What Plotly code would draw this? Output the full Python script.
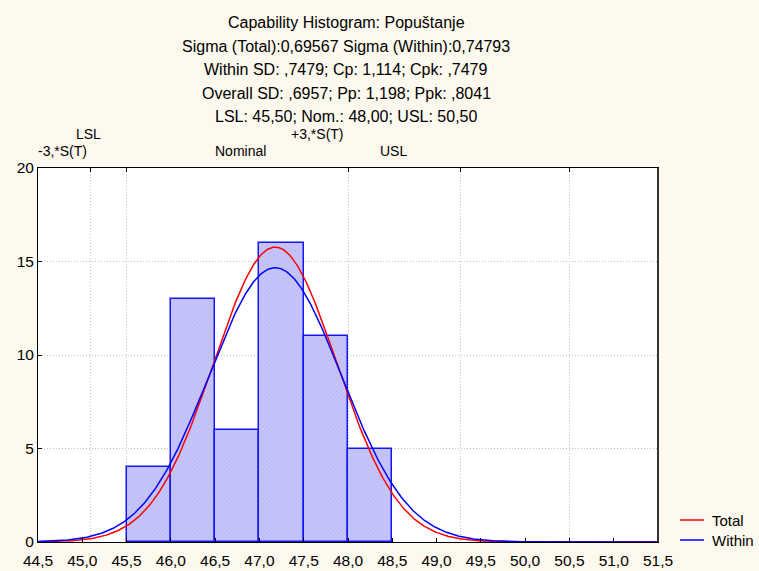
import numpy as np
import plotly.graph_objects as go

# ---- data ----
bin_left = [45.5, 46.0, 46.5, 47.0, 47.5, 48.0]
bin_width = 0.5
counts = [4, 13, 6, 16, 11, 5]
mean_val = 47.178
sigma_total = 0.69567
sigma_within = 0.74793
lsl, nominal, usl = 45.5, 48.0, 50.5

title_lines = [
    "Capability Histogram: Popuštanje",
    "Sigma (Total):0,69567 Sigma (Within):0,74793",
    "Within SD: ,7479; Cp: 1,114; Cpk: ,7479",
    "Overall SD: ,6957; Pp: 1,198; Ppk: ,8041",
    "LSL: 45,50; Nom.: 48,00; USL: 50,50",
]
top_tick_vals = [mean_val - 3 * sigma_total, lsl, nominal, mean_val + 3 * sigma_total, usl]
top_labels = ["-3,*S(T)", "LSL", "Nominal", "+3,*S(T)", "USL"]
# label positions as drawn (pixel x centre, row)
top_label_px = [62, 88, 241, 317, 393]
top_label_row = [1, 0, 1, 0, 1]

x_ticks = [44.5 + 0.5 * i for i in range(15)]
x_ticktext = [f"{v:.1f}".replace(".", ",") for v in x_ticks]

# ---- layout geometry ----
W, H = 759, 571
L, R, T, B = 38, 101, 168, 29
pw, ph = W - L - R, H - T - B

def px_x(p):
    return (p - L) / pw

def px_y(p):
    return (H - B - p) / ph

BG = "#fdf9ee"
FONT = "Liberation Sans, Arial, sans-serif"

fig = go.Figure()

centers = [b + bin_width / 2 for b in bin_left]
fig.add_trace(go.Bar(
    x=centers, y=counts, width=bin_width,
    marker=dict(color="#bcbcf6", line=dict(color="#1414ff", width=1.5),
                pattern=dict(shape="x", size=3, solidity=0.25, fgcolor="#9c9cee", bgcolor="#c6c6fa")),
    showlegend=False, hoverinfo="skip",
))

xs = np.linspace(44.5, 51.5, 600)
n = sum(counts)
def normal_curve(s):
    return n * bin_width / (s * np.sqrt(2 * np.pi)) * np.exp(-0.5 * ((xs - mean_val) / s) ** 2)

fig.add_trace(go.Scatter(x=xs, y=normal_curve(sigma_total), mode="lines",
                         line=dict(color="#ff0000", width=1.5), name="Total", showlegend=False))
fig.add_trace(go.Scatter(x=xs, y=normal_curve(sigma_within), mode="lines",
                         line=dict(color="#0000ff", width=1.5), name="Within", showlegend=False))
# invisible trace to activate top axis
fig.add_trace(go.Scatter(x=[44.5], y=[0], xaxis="x2", mode="markers",
                         marker=dict(opacity=0), showlegend=False, hoverinfo="skip"))

annotations = []
title_y = [22, 46, 69, 93, 116]
for txt, py in zip(title_lines, title_y):
    annotations.append(dict(text=txt, x=px_x(346), y=px_y(py), xref="paper", yref="paper",
                            showarrow=False, xanchor="center", yanchor="middle",
                            font=dict(size=16, color="#000000", family=FONT)))
for lab, pxc, row in zip(top_labels, top_label_px, top_label_row):
    py = 134 if row == 0 else 151
    annotations.append(dict(text=lab, x=px_x(pxc), y=px_y(py), xref="paper", yref="paper",
                            showarrow=False, xanchor="center", yanchor="middle",
                            font=dict(size=14, color="#000000", family=FONT)))

# manual legend
legend_items = [("Total", "#ff0000", 520), ("Within", "#0000ff", 540)]
shapes = []
for name, col, py in legend_items:
    shapes.append(dict(type="line", xref="paper", yref="paper",
                       x0=px_x(680), x1=px_x(704), y0=px_y(py), y1=px_y(py),
                       line=dict(color=col, width=1.5)))
    annotations.append(dict(text=name, x=px_x(710), y=px_y(py), xref="paper", yref="paper",
                            showarrow=False, xanchor="left", yanchor="middle",
                            font=dict(size=15, color="#000000", family=FONT)))
# right frame line
shapes.append(dict(type="line", xref="paper", yref="paper", x0=1, x1=1, y0=0, y1=1,
                   line=dict(color="#333333", width=2)))

fig.update_layout(
    width=W, height=H,
    margin=dict(l=L, r=R, t=T, b=B, autoexpand=False),
    paper_bgcolor=BG, plot_bgcolor="#ffffff",
    font=dict(family=FONT, size=15, color="#000000"),
    bargap=0,
    xaxis=dict(range=[44.5, 51.5], tickvals=x_ticks, ticktext=x_ticktext, automargin=False,
               showgrid=False, zeroline=False, ticks="inside", ticklen=4, tickcolor="#000",
               showline=True, linecolor="#000", linewidth=1, mirror=False,
               tickfont=dict(size=15.5), ticklabelstandoff=4),
    xaxis2=dict(range=[44.5, 51.5], overlaying="x", side="top", tickvals=top_tick_vals,
                ticktext=[""] * 5, showgrid=True, gridcolor="#c0c0c0", griddash="1px,2px",
                ticks="inside", ticklen=4, tickcolor="#000", zeroline=False, automargin=False,
                showline=True, linecolor="#000", linewidth=1),
    yaxis=dict(range=[0, 20], tickvals=[0, 5, 10, 15, 20], showgrid=True, automargin=False,
               gridcolor="#c0c0c0", griddash="1px,2px", zeroline=False,
               ticks="inside", ticklen=4, tickcolor="#000",
               showline=True, linecolor="#000", linewidth=1, mirror=True,
               tickfont=dict(size=15.5)),
    annotations=annotations,
    shapes=shapes,
    showlegend=False,
)

fig.write_html("out.html", config={"displayModeBar": False},
               post_script="document.body.style.margin='0';document.body.style.overflow='hidden';"
                           "document.body.style.background='#fdf9ee';")
